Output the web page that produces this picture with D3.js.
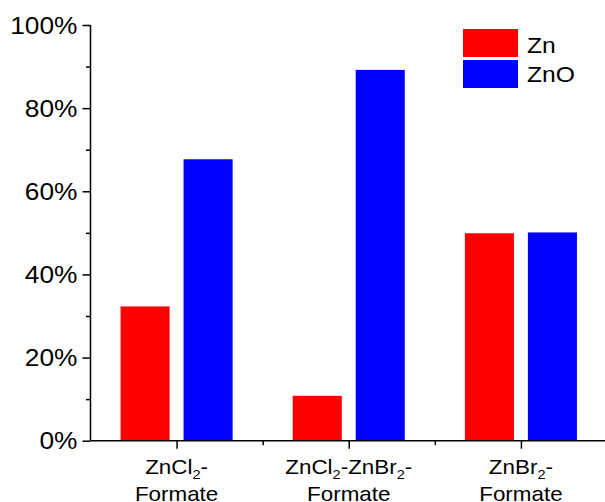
<!DOCTYPE html>
<html>
<head>
<meta charset="utf-8">
<script src="https://cdn.jsdelivr.net/npm/d3@7"></script>
<style>
  html, body { margin: 0; padding: 0; background: #fff; }
  svg { display: block; font-family: Arial, "Liberation Sans", sans-serif; }
</style>
</head>
<body>
<svg id="chart" width="605" height="502"></svg>
<script>
// Precursor systems (x categories), two-line labels with a subscript 2
const categories = ["ZnCl2-Formate", "ZnCl2-ZnBr2-Formate", "ZnBr2-Formate"];
const labelLine1 = [["ZnCl", "2", "-"], ["ZnCl", "2", "-ZnBr", "2", "-"], ["ZnBr", "2", "-"]];
const labelLine2 = ["Formate", "Formate", "Formate"];

// Phase fractions (%)
const seriesNames = ["Zn", "ZnO"];
const seriesColors = ["#ff0000", "#0000ff"];
const znValues = [32.3, 10.8, 49.9];
const znoValues = [67.7, 89.2, 50.1];

const yTicks = [0, 20, 40, 60, 80, 100];
const yMinorTicks = [10, 30, 50, 70, 90];

const svg = d3.select("#chart");
const stretch = 1.12; // glyphs are slightly wide

const x = d3.scaleLinear().domain([0.5, 3.5]).range([90.5, 607]);
const y = d3.scaleLinear().domain([0, 100]).range([440.7, 25]);

const barW = 0.285;    // bar width in category units
const barOff = 0.183;  // distance from group centre to each bar centre

const series = [znValues, znoValues];
series.forEach((vals, s) => {
  svg.append("g")
    .selectAll("rect")
    .data(vals)
    .join("rect")
    .attr("x", (d, i) => x(i + 1 + (s === 0 ? -barOff : barOff) - barW / 2))
    .attr("width", x(barW) - x(0))
    .attr("y", d => y(d))
    .attr("height", d => y(0) - y(d))
    .attr("fill", seriesColors[s]);
});

// Y axis
const yAxis = svg.append("g")
  .attr("transform", "translate(90.5,0)")
  .call(d3.axisLeft(y).tickValues(yTicks).tickSize(8).tickFormat(d => d + "%"));
yAxis.select(".domain").attr("stroke-width", 1.5).attr("d", `M0,${y(100)}V${y(0)}`);
yAxis.selectAll(".tick line").attr("stroke-width", 1.5);
yAxis.selectAll(".tick text")
  .attr("x", null).attr("dy", null)
  .attr("font-size", 23.5).attr("fill", "#000")
  .attr("font-family", "Arial, 'Liberation Sans', sans-serif")
  .attr("transform", `translate(-13,8.2) scale(${stretch},1)`);

const yMinor = svg.append("g")
  .attr("transform", "translate(90.5,0)")
  .call(d3.axisLeft(y).tickValues(yMinorTicks).tickSize(4.5).tickFormat(""));
yMinor.select(".domain").remove();
yMinor.selectAll(".tick line").attr("stroke-width", 1.5);

// X axis
const xAxis = svg.append("g")
  .attr("transform", `translate(0,${y(0)})`)
  .call(d3.axisBottom(x).tickValues([1, 2, 3]).tickSize(8).tickFormat(""));
xAxis.select(".domain").attr("stroke-width", 1.5).attr("d", `M${x(0.5)},0H${x(3.5)}`);
xAxis.selectAll(".tick line").attr("stroke-width", 1.5);

const xMinor = svg.append("g")
  .attr("transform", `translate(0,${y(0)})`)
  .call(d3.axisBottom(x).tickValues([1.5, 2.5]).tickSize(4.5).tickFormat(""));
xMinor.select(".domain").remove();
xMinor.selectAll(".tick line").attr("stroke-width", 1.5);

// Category labels
const labels = svg.append("g").attr("font-size", 20).attr("fill", "#000");
categories.forEach((c, i) => {
  const t1 = labels.append("text")
    .attr("text-anchor", "middle")
    .attr("transform", `translate(${x(i + 1)},474) scale(${stretch},1)`);
  labelLine1[i].forEach(part => {
    if (part === "2") {
      t1.append("tspan").attr("font-size", 13).attr("dy", 5).text(part);
    } else {
      const ts = t1.append("tspan").text(part);
      if (t1.selectAll("tspan").size() > 1) ts.attr("dy", -5);
    }
  });
  labels.append("text")
    .attr("text-anchor", "middle")
    .attr("transform", `translate(${x(i + 1)},501) scale(${stretch},1)`)
    .text(labelLine2[i]);
});

// Legend
const legend = svg.append("g");
seriesNames.forEach((name, s) => {
  legend.append("rect")
    .attr("x", 463).attr("y", 29 + s * 31)
    .attr("width", 55).attr("height", 28)
    .attr("fill", seriesColors[s]);
  legend.append("text")
    .attr("transform", `translate(527,${53 + s * 28.5}) scale(${stretch},1)`)
    .attr("font-size", 22).attr("fill", "#000")
    .text(name);
});
</script>
</body>
</html>
